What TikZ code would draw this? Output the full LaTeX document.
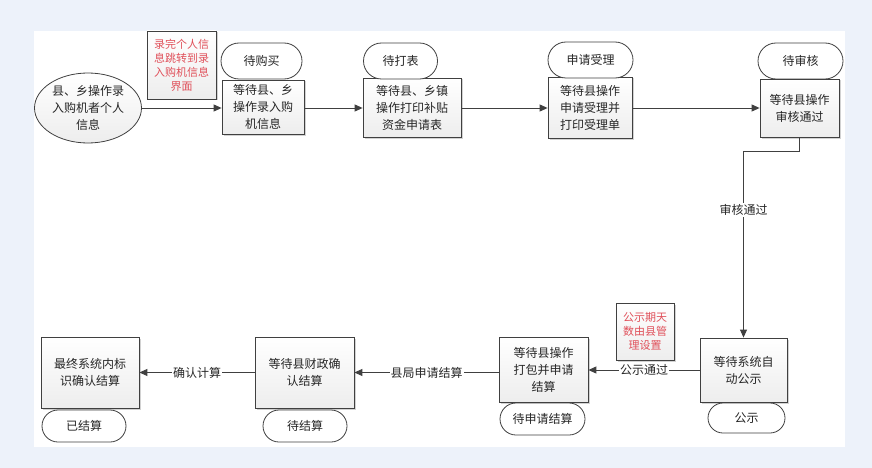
\documentclass[tikz,border=0pt]{standalone}
\usepackage{fontspec}
\newfontfamily\cjk{Noto Sans CJK SC}
\usetikzlibrary{arrows.meta,shapes.geometric,shapes.misc,shadows}
\definecolor{bgblue}{HTML}{EDF2FA}
\definecolor{lineg}{HTML}{404040}
\definecolor{notered}{HTML}{E0505A}
\tikzset{
  base/.style={draw=lineg, line width=0.8pt, inner sep=0pt, align=center,
    font=\cjk\fontsize{12}{17}\selectfont, text=black!85},
  box/.style={base, rectangle, top color=white, bottom color=gray!14,
    drop shadow={shadow xshift=1.5pt, shadow yshift=-1.5pt, opacity=0.35}},
  stad/.style={base, rounded rectangle, fill=white},
  oval/.style={base, ellipse, top color=white, bottom color=gray!14},
  note/.style={base, rectangle, top color=white, bottom color=gray!14,
    text=notered, font=\cjk\fontsize{11}{14}\selectfont,
    drop shadow={shadow xshift=1.5pt, shadow yshift=-1.5pt, opacity=0.35}},
  arr/.style={draw=lineg, line width=0.9pt, -{Triangle[length=8pt,width=7pt]}},
  lbl/.style={fill=white, inner sep=1pt, font=\cjk\fontsize{12}{14}\selectfont, text=black!85},
}
\begin{document}
\begin{tikzpicture}[x=1pt,y=-1pt]
\useasboundingbox (0,0) rectangle (872,468);
\fill[bgblue] (0,0) rectangle (872,468);
\fill[white] (34,31) rectangle (845,447);

% top row
\node[oval, minimum width=107pt, minimum height=70pt] (ell) at (88,108) {县、乡操作录\\入购机者个人\\信息};
\node[note, minimum width=69pt, minimum height=68pt] (n1) at (181.5,65) {录完个人信\\息跳转到录\\入购机信息\\界面};
\node[box, minimum width=82pt, minimum height=54pt] (b1) at (263,107) {等待县、乡\\操作录入购\\机信息};
\node[stad, minimum width=81pt, minimum height=36pt] (s1) at (261.5,61) {待购买};
\node[box, minimum width=98pt, minimum height=59pt] (b2) at (412,107.5) {等待县、乡镇\\操作打印补贴\\资金申请表};
\node[stad, minimum width=74pt, minimum height=36pt] (s2) at (400.5,61) {待打表};
\node[box, minimum width=84pt, minimum height=61pt] (b3) at (590,107.5) {等待县操作\\申请受理并\\打印受理单};
\node[stad, minimum width=85pt, minimum height=36pt] (s3) at (590.5,60) {申请受理};
\node[box, minimum width=79pt, minimum height=58pt] (b4) at (799.5,108) {等待县操作\\审核通过};
\node[stad, minimum width=85pt, minimum height=36pt] (s4) at (800.5,61) {待审核};

% bottom row
\node[box, minimum width=87pt, minimum height=64pt] (b5) at (743.5,370) {等待系统自\\动公示};
\node[stad, minimum width=77pt, minimum height=30pt] (s5) at (746.5,418) {公示};
\node[note, minimum width=58pt, minimum height=57pt] (n2) at (645,331.5) {公示期天\\数由县管\\理设置};
\node[box, minimum width=89pt, minimum height=65pt] (b6) at (543.5,369.5) {等待县操作\\打包并申请\\结算};
\node[stad, minimum width=85pt, minimum height=32pt] (s6) at (542.5,419) {待申请结算};
\node[box, minimum width=99pt, minimum height=71pt] (b7) at (304.5,372.5) {等待县财政确\\认结算};
\node[stad, minimum width=84pt, minimum height=32pt] (s7) at (305,426) {待结算};
\node[box, minimum width=98pt, minimum height=71pt] (b8) at (90,372.5) {最终系统内标\\识确认结算};
\node[stad, minimum width=84pt, minimum height=32pt] (s8) at (84,426) {已结算};

% connectors
\draw[arr] (ell.east) -- (ell.east -| b1.west);
\draw[arr] (b1.east |- ell.east) -- (ell.east -| b2.west);
\draw[arr] (b2.east |- ell.east) -- (ell.east -| b3.west);
\draw[arr] (b3.east |- ell.east) -- (ell.east -| b4.west);
\coordinate (turn) at (743.5,151);
\draw[draw=lineg, line width=0.9pt] (b4.south) |- (turn);
\draw[arr] (turn) -- node[lbl, pos=0.316] {审核通过} (b5.north);
\draw[arr] (b5.west) -- node[lbl] {公示通过} (b5.west -| b6.east);
\draw[arr] (b6.west |- b7.east) -- node[lbl] {县局申请结算} (b7.east);
\draw[arr] (b7.west) -- node[lbl] {确认计算} (b8.east);
\end{tikzpicture}
\end{document}
